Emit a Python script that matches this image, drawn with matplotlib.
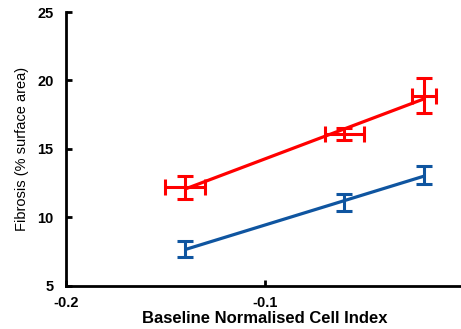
import numpy as np
import matplotlib
matplotlib.use('Agg')
from matplotlib import pyplot as plt

plt.rcParams['font.family'] = ['Liberation Sans', 'DejaVu Sans']
plt.rcParams['font.weight'] = 'bold'

# Red series
x_red = [-0.140, -0.060, -0.020]
y_red = [12.2, 16.1, 18.9]
yerr_red = [0.85, 0.45, 1.3]
xerr_red = [0.010, 0.010, 0.006]

# Blue series
x_blue = [-0.140, -0.060, -0.020]
y_blue = [7.7, 11.1, 13.1]
yerr_blue = [0.6, 0.6, 0.65]

red = '#ff0000'
blue = '#0f55a0'

fig = plt.figure(figsize=(4.61, 3.29), dpi=100)
ax = fig.add_axes([0.143, 0.131, 0.863, 0.8325])

# regression lines over the data range
for xs, ys, c in [(x_red, y_red, red), (x_blue, y_blue, blue)]:
    p = np.polyfit(xs, ys, 1)
    xx = np.array([min(xs), max(xs)])
    ax.plot(xx, np.polyval(p, xx), color=c, lw=2.3, solid_capstyle='butt')

ax.errorbar(x_red, y_red, yerr=yerr_red, xerr=xerr_red, fmt='none',
            ecolor=red, elinewidth=2.2, capsize=5.5, capthick=2.2)
ax.errorbar(x_blue, y_blue, yerr=yerr_blue, fmt='none',
            ecolor=blue, elinewidth=2.2, capsize=5.5, capthick=2.2)

ax.set_xlim(-0.2, 0.0)
ax.set_ylim(5, 25)
ax.set_xticks([-0.2, -0.1])
ax.set_xticklabels(['-0.2', '-0.1'])
ax.set_yticks([5, 10, 15, 20, 25])

for s in ['top', 'right']:
    ax.spines[s].set_visible(False)
for s in ['left', 'bottom']:
    ax.spines[s].set_linewidth(2)
ax.tick_params(direction='in', length=4, width=2, labelsize=10.5)
ax.tick_params(axis='y', pad=9)
ax.tick_params(axis='x', pad=7)

ax.set_xlabel('Baseline Normalised Cell Index', fontsize=12, fontweight='bold', labelpad=1)
ax.set_ylabel('Fibrosis (% surface area)', fontsize=10.5, fontweight='normal', labelpad=6)

fig.savefig('out.png', dpi=100)
